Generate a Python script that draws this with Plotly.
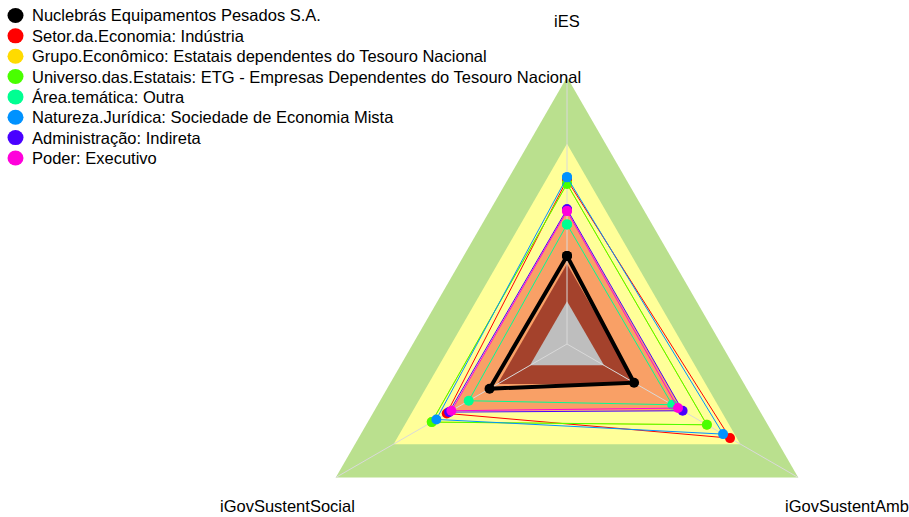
import numpy as np
import plotly.graph_objects as go

# axes of the radar, clockwise from the top
AXES = ["iES", "iGovSustentAmb", "iGovSustentSocial"]
ANGLES = np.deg2rad([90, -30, 210])

# background bands (outer level of each band) and their colours
BAND_LEVELS = [1.0, 0.75, 0.5, 0.3, 0.16]
BAND_COLORS = ["#BAE08E", "#FFFF99", "#F9A066", "#A4422C", "#BEBEBE"]

# series
NAMES = [
    "Nuclebrás Equipamentos Pesados S.A.",
    "Setor.da.Economia: Indústria",
    "Grupo.Econômico: Estatais dependentes do Tesouro Nacional",
    "Universo.das.Estatais: ETG - Empresas Dependentes do Tesouro Nacional",
    "Área.temática: Outra",
    "Natureza.Jurídica: Sociedade de Economia Mista",
    "Administração: Indireta",
    "Poder: Executivo",
]
COLORS = ["#000000", "#FF0000", "#FFDB00", "#49FF00", "#00FF92", "#0092FF", "#4900FF", "#FF00DB"]
IES = [0.33, 0.615, 0.60, 0.60, 0.448, 0.625, 0.505, 0.498]
AMB = [0.29, 0.705, 0.605, 0.605, 0.455, 0.675, 0.50, 0.48]
SOCIAL = [0.335, 0.52, 0.585, 0.585, 0.425, 0.565, 0.51, 0.50]

LABEL_R = 1.21
FONT = dict(family="Liberation Sans, Arial", size=16.5, color="black")

W, H = 909, 517
CX, CY, RAD = 567, 344, 267   # radar centre and outer radius in pixels


def radar_xy(vals):
    """values on the three axes -> closed polygon in cartesian coords"""
    r = np.append(vals, vals[0])
    a = np.append(ANGLES, ANGLES[0])
    return r * np.cos(a), r * np.sin(a)


fig = go.Figure()

# background bands
for lvl, col in zip(BAND_LEVELS, BAND_COLORS):
    x, y = radar_xy([lvl] * 3)
    fig.add_trace(go.Scatter(x=x, y=y, mode="lines", fill="toself", fillcolor=col,
                             line=dict(width=0, color=col), hoverinfo="skip"))

# spokes
for a in ANGLES:
    fig.add_trace(go.Scatter(x=[0, np.cos(a)], y=[0, np.sin(a)], mode="lines",
                             line=dict(color="#D9D9D9", width=1), hoverinfo="skip"))

# series (black drawn last so it sits on top)
for i in list(range(1, len(NAMES))) + [0]:
    x, y = radar_xy([IES[i], AMB[i], SOCIAL[i]])
    black = i == 0
    fig.add_trace(go.Scatter(
        x=x, y=y, mode="lines+markers", name=NAMES[i],
        line=dict(color=COLORS[i], width=4 if black else 1),
        marker=dict(color=COLORS[i], size=10),
        text=AXES + AXES[:1], hovertemplate="%{text}<extra>" + NAMES[i] + "</extra>"))

# axis labels
for name, a in zip(AXES, ANGLES):
    fig.add_annotation(x=LABEL_R * np.cos(a), y=LABEL_R * np.sin(a), text=name,
                       showarrow=False, font=FONT)

# legend built by hand (circles + text)
for i, (name, col) in enumerate(zip(NAMES, COLORS)):
    yc = 1 - (15.5 + i * 20.35) / H
    fig.add_shape(type="circle", xref="paper", yref="paper",
                  xsizemode="pixel", ysizemode="pixel",
                  xanchor=15.5 / W, yanchor=yc, x0=-8, x1=8, y0=-7.5, y1=7.5,
                  fillcolor=col, line=dict(width=0))
    fig.add_annotation(x=30 / W, y=yc, xref="paper", yref="paper", text=name,
                       xanchor="left", yanchor="middle", showarrow=False, font=FONT)

fig.update_layout(
    width=W, height=H,
    margin=dict(l=0, r=0, t=0, b=0),
    paper_bgcolor="white", plot_bgcolor="white",
    showlegend=False,
    xaxis=dict(range=[-CX / RAD, (W - CX) / RAD], visible=False, fixedrange=True),
    yaxis=dict(range=[-(H - CY) / RAD, CY / RAD], visible=False, fixedrange=True),
)

# drop the default page margin so the figure fills the window exactly
fig.write_html("out.html", config={"displayModeBar": False},
               post_script="document.body.style.margin='0';document.body.style.overflow='hidden';")
